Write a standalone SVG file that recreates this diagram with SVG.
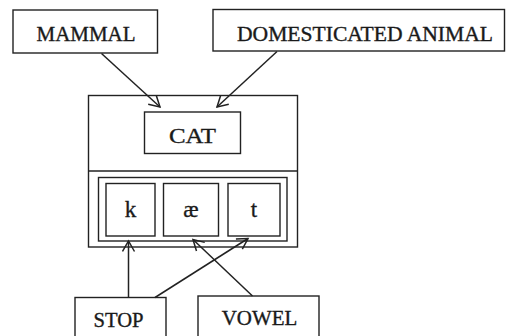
<svg xmlns="http://www.w3.org/2000/svg" width="507" height="336" viewBox="0 0 507 336">
<defs>
<style>
rect{fill:#fff;stroke:#222;stroke-width:1.4}
text{font-family:"Liberation Serif","Times New Roman",serif;fill:#1a1a1a;stroke:#1a1a1a;stroke-width:0.35;text-anchor:middle}
.lbl{font-size:20px}
.ln{stroke:#222;stroke-width:1.5;fill:none;marker-end:url(#ah)}
</style>
<marker id="ah" markerUnits="userSpaceOnUse" markerWidth="14" markerHeight="14" viewBox="0 0 14 14" refX="12" refY="7" orient="auto">
<path d="M1.5,1 L12,7 L1.5,13" fill="none" stroke="#222" stroke-width="1.5"/>
</marker>
</defs>
<rect width="507" height="336" style="stroke:none"/>
<g id="mammal"><rect x="13" y="10" width="144.5" height="43"/><text class="lbl" x="86" y="41" textLength="99" lengthAdjust="spacingAndGlyphs">MAMMAL</text></g>
<g id="domesticated"><rect x="213" y="9.5" width="291.5" height="41.5"/><text class="lbl" x="365" y="41" textLength="256" lengthAdjust="spacingAndGlyphs">DOMESTICATED ANIMAL</text></g>
<g id="cat-frame"><rect x="88.5" y="95.5" width="209" height="151.5"/><line x1="88.5" y1="171" x2="297.5" y2="171" style="stroke:#222;stroke-width:1.4"/></g>
<g id="cat"><rect x="144.5" y="112" width="96" height="41.5"/><text x="192.5" y="143" font-size="22" textLength="47" lengthAdjust="spacingAndGlyphs">CAT</text></g>
<g id="phonemes"><rect x="98.5" y="177.5" width="188.5" height="63.5"/></g>
<g id="k"><rect x="106" y="183.5" width="49" height="52.5"/><text x="130.5" y="216.5" font-size="23">k</text></g>
<g id="ae"><rect x="163.5" y="183.5" width="55" height="52.5"/><text x="191" y="216.5" font-size="23">æ</text></g>
<g id="t"><rect x="228" y="183.5" width="52" height="52.5"/><text x="254" y="216.5" font-size="23">t</text></g>
<g id="stop"><rect x="75" y="297.5" width="91" height="50"/><text class="lbl" x="118.5" y="326.5" textLength="50" lengthAdjust="spacingAndGlyphs">STOP</text></g>
<g id="vowel"><rect x="198" y="296" width="121" height="50"/><text class="lbl" x="259.5" y="325" textLength="75.5" lengthAdjust="spacingAndGlyphs">VOWEL</text></g>
<g id="connectors">
<line class="ln" x1="101.5" y1="53.5" x2="160" y2="107"/>
<line class="ln" x1="277" y1="51.5" x2="217" y2="107"/>
<line class="ln" x1="128.5" y1="297.5" x2="128.5" y2="241"/>
<line class="ln" x1="155" y1="297.5" x2="248" y2="238.5"/>
<line class="ln" x1="252.5" y1="296" x2="193" y2="239.5"/>
</g>
</svg>
